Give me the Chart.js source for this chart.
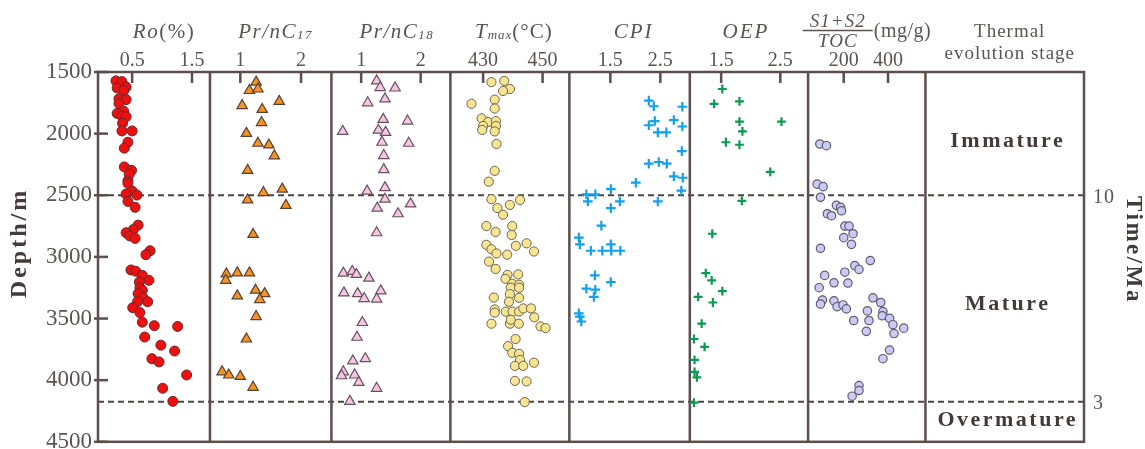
<!DOCTYPE html>
<html><head><meta charset="utf-8">
<script src="https://cdn.jsdelivr.net/npm/chart.js@4.4.1/dist/chart.umd.min.js"></script>
<style>html,body{margin:0;padding:0;background:#fff;}#wrap{width:1145px;height:449px;}</style>
</head><body><div id="wrap"><canvas id="c" width="1145" height="449"></canvas></div>
<script>
// ---- data: [value, depth(m)] ----
const roData = [[0.23,1572],[0.33,1578],[0.25,1630],[0.40,1622],[0.36,1650],[0.28,1718],[0.40,1724],[0.28,1756],[0.36,1818],[0.25,1836],[0.33,1858],[0.40,1862],[0.34,1916],[0.33,1978],[0.50,1978],[0.43,2070],[0.37,2118],[0.37,2270],[0.49,2298],[0.45,2330],[0.43,2382],[0.43,2404],[0.50,2466],[0.40,2490],[0.58,2498],[0.43,2550],[0.55,2598],[0.60,2742],[0.52,2778],[0.40,2804],[0.46,2830],[0.55,2850],[0.80,2950],[0.73,2982],[0.48,3106],[0.56,3116],[0.67,3150],[0.78,3190],[0.62,3204],[0.63,3250],[0.67,3270],[0.60,3298],[0.68,3330],[0.76,3364],[0.59,3364],[0.51,3412],[0.63,3452],[0.67,3530],[0.87,3558],[1.26,3564],[0.71,3650],[0.98,3716],[1.21,3764],[0.83,3826],[0.95,3852],[1.41,3958],[1.01,4066],[1.18,4172]];
const prC17Data = [[1.26,1582],[1.15,1650],[1.29,1638],[1.64,1738],[1.03,1772],[1.36,1804],[1.35,1910],[1.10,1998],[1.29,2078],[1.47,2092],[1.56,2180],[1.12,2298],[1.69,2450],[1.38,2478],[1.12,2538],[1.75,2582],[1.21,2818],[0.77,3138],[0.95,3130],[1.15,3130],[0.76,3190],[1.25,3270],[1.40,3298],[0.95,3316],[1.32,3346],[1.26,3484],[1.10,3666],[0.70,3932],[0.81,3958],[1.00,3970],[1.21,4058]];
const prC18Data = [[1.26,1572],[1.32,1626],[1.57,1630],[1.40,1718],[1.11,1750],[1.37,1884],[1.78,1898],[0.69,1982],[1.29,1972],[1.41,1990],[1.35,2070],[1.80,2078],[1.38,2178],[1.38,2292],[1.10,2466],[1.40,2438],[1.40,2532],[1.27,2604],[1.83,2570],[1.62,2650],[1.26,2804],[0.70,3132],[0.85,3118],[0.92,3142],[1.13,3172],[0.71,3292],[0.94,3298],[1.33,3276],[1.05,3338],[1.26,3342],[1.02,3532],[0.93,3652],[0.86,3844],[1.07,3826],[0.70,3932],[0.67,3964],[0.89,3958],[0.96,4018],[1.26,4066],[0.81,4172]];
const tmaxData = [[432.8,1582],[437.1,1572],[439.0,1638],[436.7,1654],[426.1,1758],[433.9,1724],[433.9,1796],[429.5,1876],[431.7,1906],[434.3,1898],[430.0,1938],[434.3,1938],[429.7,1970],[433.9,1982],[434.5,2084],[433.9,2302],[431.9,2390],[432.8,2532],[442.4,2538],[439.0,2578],[434.8,2604],[436.7,2658],[431.1,2750],[439.8,2750],[434.2,2798],[439.6,2822],[431.1,2902],[432.8,2938],[434.5,2972],[438.1,2982],[441.0,2910],[444.6,2890],[447.1,2956],[432.0,3038],[434.2,3098],[438.2,3146],[441.8,3142],[437.5,3178],[439.8,3218],[442.1,3226],[439.3,3250],[442.1,3250],[439.0,3302],[433.6,3330],[442.1,3332],[438.7,3364],[433.9,3426],[433.9,3452],[437.6,3444],[439.9,3444],[442.1,3444],[443.5,3418],[446.1,3418],[447.2,3490],[432.8,3542],[439.0,3542],[442.0,3542],[439.3,3510],[449.3,3564],[451.0,3578],[440.9,3666],[438.4,3724],[439.8,3778],[442.1,3786],[442.4,3836],[440.7,3884],[443.5,3884],[447.1,3858],[440.7,4006],[444.6,4010],[444.0,4178]];
const cpiData = [[2.27,1732],[2.37,1778],[2.94,1782],[2.39,1898],[2.27,1932],[2.77,1890],[2.94,1942],[2.45,1990],[2.62,1990],[2.93,2142],[2.27,2244],[2.47,2230],[2.63,2244],[2.77,2346],[2.95,2358],[2.01,2398],[2.92,2462],[1.51,2450],[1.02,2492],[1.20,2492],[1.05,2550],[1.69,2550],[1.51,2604],[2.45,2550],[1.32,2746],[0.87,2844],[0.89,2898],[1.11,2950],[1.34,2950],[1.51,2898],[1.52,2950],[1.70,2950],[1.19,3150],[1.51,3204],[1.02,3258],[1.20,3266],[1.17,3324],[0.87,3458],[0.89,3484],[0.92,3524]];
const oepData = [[1.52,1638],[1.38,1758],[1.81,1738],[1.81,1902],[2.52,1902],[1.86,1982],[1.58,2070],[1.81,2090],[2.33,2310],[1.85,2545],[1.35,2812],[1.24,3132],[1.34,3190],[1.52,3278],[1.11,3324],[1.36,3370],[1.17,3542],[1.04,3666],[1.22,3730],[1.05,3836],[1.05,3932],[1.09,3978],[1.04,4182]];
const hiData = [[92,2084],[122,2098],[80,2410],[107,2430],[95,2516],[167,2582],[186,2598],[190,2626],[126,2650],[145,2666],[205,2750],[224,2750],[242,2812],[200,2844],[235,2898],[95,2930],[320,3030],[250,3070],[269,3102],[205,3124],[114,3150],[219,3212],[156,3210],[89,3250],[104,3350],[95,3382],[156,3356],[170,3404],[197,3390],[212,3422],[332,3332],[367,3370],[307,3438],[377,3444],[374,3478],[407,3498],[314,3516],[245,3516],[422,3550],[471,3578],[427,3622],[302,3604],[407,3756],[377,3826],[269,4044],[269,4084],[238,4130]];

// ---- tick labels ----
const depthTicks = [1500,2000,2500,3000,3500,4000,4500];
const roTicks = [0.5,1.5];
const prC17Ticks = [1,2];
const prC18Ticks = [1,2];
const tmaxTicks = [430,450];
const cpiTicks = [1.5,2.5];
const oepTicks = [1.5,2.5];
const hiTicks = [200,400];

// ---- stages ----
const stageNames = ['Immature','Mature','Overmature'];
const stageBoundaries = [2500,4175];
const boundaryAges = ['10','3'];

const SERIF = '"Liberation Serif", "DejaVu Serif", serif';
const TXT = '#5a5452';
const DARK = '#443a38';
const FRAME = '#5b4e4c';

function xScale(min, max, ticks, weight) {
  return {
    type: 'linear', position: 'top', stack: 'panels', stackWeight: weight,
    min: min, max: max, offset: false,
    grid: {display: false, drawTicks: false}, border: {display: false},
    ticks: {display: ticks.length > 0, padding: 1, color: TXT, autoSkip: false, maxRotation: 0,
      font: {family: SERIF, size: 20, lineHeight: 1}, callback: v => String(v)},
    afterBuildTicks: s => { s.ticks = ticks.map(v => ({value: v})); },
    afterFit: s => { s.height = 72; s.paddingLeft = 0; s.paddingRight = 0; s.paddingTop = 0; s.paddingBottom = 0; }
  };
}

const panelIds = ['xRo','xP17','xP18','xTmax','xCpi','xOep','xHi','xStage'];

function ds(data, xid, style) {
  return Object.assign({
    data: data.map(p => ({x: p[0], y: p[1]})), xAxisID: xid, yAxisID: 'y',
    showLine: false, clip: false
  }, style);
}

const decor = {
  id: 'decor',
  beforeDatasetsDraw(chart) {
    const {ctx, chartArea: a, scales} = chart;
    const line = (x1, y1, x2, y2) => { ctx.beginPath(); ctx.moveTo(x1, y1); ctx.lineTo(x2, y2); ctx.stroke(); };
    ctx.save();
    ctx.strokeStyle = '#4d4341'; ctx.lineWidth = 2; ctx.setLineDash([6, 4]);
    stageBoundaries.forEach(d => { const y = scales.y.getPixelForValue(d); line(a.left, y, a.right, y); });
    ctx.setLineDash([]);
    ctx.strokeStyle = FRAME; ctx.lineWidth = 2.5;
    ctx.strokeRect(a.left, a.top, a.right - a.left, a.bottom - a.top);
    panelIds.slice(1).forEach(id => { const x = scales[id].left; line(x, a.top, x, a.bottom); });
    panelIds.forEach(id => {
      const s = scales[id];
      s.ticks.forEach(t => { const x = s.getPixelForValue(t.value); line(x, a.top, x, a.top + 11); });
    });
    scales.y.ticks.forEach(t => { const y = scales.y.getPixelForValue(t.value); line(a.left - 4, y, a.left + 10, y); });
    ctx.restore();
  },
  afterDraw(chart) {
    const {ctx, chartArea: a, scales} = chart;
    const it21 = 'italic 21px ' + SERIF, n21 = '21px ' + SERIF, it13 = 'italic 13px ' + SERIF;
    const cxOf = id => (scales[id].left + scales[id].right) / 2;
    function rich(segs, cx, base, spacing) {
      ctx.letterSpacing = (spacing || 0) + 'px';
      let total = 0;
      segs.forEach(s => { ctx.font = s.f; s.w = ctx.measureText(s.t).width; total += s.w; });
      let x = cx - total / 2;
      ctx.textAlign = 'left'; ctx.textBaseline = 'alphabetic';
      segs.forEach(s => { ctx.font = s.f; ctx.fillText(s.t, x, base + (s.dy || 0)); x += s.w; });
    }
    ctx.save();
    ctx.fillStyle = TXT;
    const B = 38;
    rich([{t: 'Ro', f: it21}, {t: '(%)', f: n21}], cxOf('xRo') + 10, B, 1.5);
    rich([{t: 'Pr/nC', f: it21}, {t: '17', f: it13, dy: 1}], cxOf('xP17') + 5, B, 1.5);
    rich([{t: 'Pr/nC', f: it21}, {t: '18', f: it13, dy: 1}], cxOf('xP18') + 6, B, 1.5);
    rich([{t: 'T', f: it21}, {t: 'max', f: it13, dy: 1}, {t: '(°C)', f: n21}], cxOf('xTmax') + 4, B, 1);
    rich([{t: 'CPI', f: it21}], cxOf('xCpi') + 4, B, 2);
    rich([{t: 'OEP', f: it21}], cxOf('xOep') - 3, B, 2);
    const fx = cxOf('xHi') - 29;
    rich([{t: 'S1+S2', f: 'italic 19px ' + SERIF}], fx, 27, 1);
    rich([{t: 'TOC', f: 'italic 19px ' + SERIF}], fx, 47, 1);
    ctx.strokeStyle = TXT; ctx.lineWidth = 1.3;
    ctx.beginPath(); ctx.moveTo(fx - 35, 30.5); ctx.lineTo(fx + 35, 30.5); ctx.stroke();
    ctx.letterSpacing = '0.5px';
    ctx.font = '20px ' + SERIF; ctx.textAlign = 'left'; ctx.fillText('(mg/g)', fx + 36, 37);
    const sx = cxOf('xStage');
    rich([{t: 'Thermal', f: '19px ' + SERIF}], sx + 5, 37, 1);
    rich([{t: 'evolution stage', f: '19px ' + SERIF}], sx + 5, 59, 1);
    ctx.fillStyle = DARK;
    const bounds = [scales.y.min].concat(stageBoundaries, [scales.y.max]);
    const adj = [8, 6, -1];
    stageNames.forEach((n, i) => {
      const y = scales.y.getPixelForValue((bounds[i] + bounds[i + 1]) / 2) + adj[i];
      ctx.letterSpacing = '2.5px';
      ctx.font = 'bold 22px ' + SERIF; ctx.textAlign = 'center'; ctx.textBaseline = 'middle';
      ctx.fillText(n, sx + 3, y);
    });
    ctx.fillStyle = TXT;
    ctx.letterSpacing = '1px';
    ctx.font = '20px ' + SERIF; ctx.textAlign = 'left'; ctx.textBaseline = 'middle';
    stageBoundaries.forEach((d, i) => ctx.fillText(boundaryAges[i], a.right + 9, scales.y.getPixelForValue(d) + 2));
    ctx.fillStyle = DARK;
    ctx.font = 'bold 23px ' + SERIF; ctx.letterSpacing = '2.5px'; ctx.textAlign = 'center'; ctx.textBaseline = 'middle';
    ctx.save(); ctx.translate(1133, 250); ctx.rotate(Math.PI / 2); ctx.fillText('Time/Ma', 0, 0); ctx.restore();
    ctx.font = 'bold 24px ' + SERIF; ctx.letterSpacing = '3px';
    ctx.save(); ctx.translate(20, 243); ctx.rotate(-Math.PI / 2); ctx.fillText('Depth/m', 0, 0); ctx.restore();
    ctx.restore();
  }
};

new Chart(document.getElementById('c'), {
  type: 'scatter',
  data: {datasets: [
    ds(roData, 'xRo', {pointStyle: 'circle', pointRadius: 5, backgroundColor: '#ee1010', borderColor: '#6a2828', borderWidth: 1}),
    ds(prC17Data, 'xP17', {pointStyle: 'triangle', pointRadius: 6, backgroundColor: '#f39424', borderColor: '#5a3e2e', borderWidth: 1.2}),
    ds(prC18Data, 'xP18', {pointStyle: 'triangle', pointRadius: 6, backgroundColor: '#f4c8e2', borderColor: '#6a5060', borderWidth: 1.2}),
    ds(tmaxData, 'xTmax', {pointStyle: 'circle', pointRadius: 4.6, backgroundColor: '#f8e592', borderColor: '#6e6550', borderWidth: 1}),
    ds(cpiData, 'xCpi', {pointStyle: 'cross', pointRadius: 4.8, borderColor: '#13a0ec', borderWidth: 2.2}),
    ds(oepData, 'xOep', {pointStyle: 'cross', pointRadius: 4.4, borderColor: '#0b9a52', borderWidth: 2.2}),
    ds(hiData, 'xHi', {pointStyle: 'circle', pointRadius: 4.2, backgroundColor: '#cacaf2', borderColor: '#5f5b72', borderWidth: 1.2})
  ]},
  options: {
    responsive: false, animation: false, events: [],
    layout: {padding: {left: 0, top: 0, right: 61, bottom: 2}},
    plugins: {legend: {display: false}, tooltip: {enabled: false}},
    // top axes are placed in reverse order of definition, so list them right-to-left
    scales: {
      xStage: xScale(0, 1, [], 158.6),
      xHi: xScale(39, 569, hiTicks, 117.4),
      xOep: xScale(0.97, 2.97, oepTicks, 118.3),
      xCpi: xScale(0.68, 3.09, cpiTicks, 120.5),
      xTmax: xScale(419, 459, tmaxTicks, 119),
      xP18: xScale(0.5, 2.5, prC18Ticks, 119),
      xP17: xScale(0.5, 2.5, prC17Ticks, 121.5),
      xRo: xScale(-0.07, 1.8, roTicks, 112),
      y: {
        type: 'linear', position: 'left', reverse: true, min: 1500, max: 4500,
        grid: {display: false, drawTicks: false}, border: {display: false},
        ticks: {padding: 6, color: TXT, autoSkip: false, font: {family: SERIF, size: 23}, callback: v => String(v)},
        afterBuildTicks: s => { s.ticks = depthTicks.map(v => ({value: v})); },
        afterFit: s => { s.width = 98; s.paddingTop = 0; s.paddingBottom = 0; s.paddingLeft = 0; s.paddingRight = 0; }
      }
    }
  },
  plugins: [decor]
});
</script>
</body></html>
